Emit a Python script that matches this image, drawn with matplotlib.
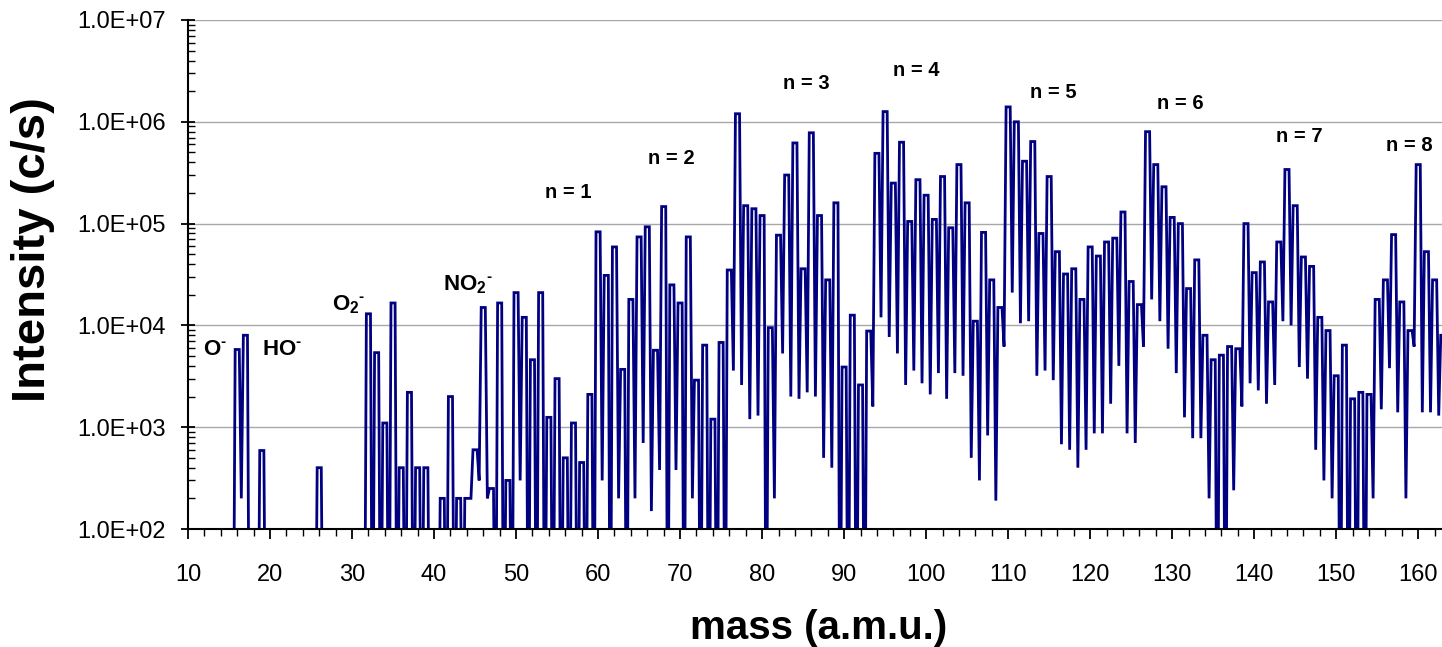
import numpy as np
import matplotlib
matplotlib.use("Agg")
import matplotlib.pyplot as plt
from matplotlib.ticker import MultipleLocator, LogLocator, FuncFormatter, NullFormatter

# peak intensity (c/s) at each integer mass 15..163, 0 = nothing above the floor
masses = np.arange(15, 164)
peak = [
    0, 5.8e3, 8.0e3, 0, 590,                                              # 15-19
    0, 0, 0, 0, 0, 0, 400, 0, 0, 0,                                       # 20-29
    0, 0, 1.3e4, 5.4e3, 1.1e3, 1.66e4, 400, 2.2e3, 400, 400,              # 30-39
    0, 200, 2.0e3, 200, 200, 600, 1.5e4, 250, 1.66e4, 300,                # 40-49
    2.1e4, 1.2e4, 4.6e3, 2.1e4, 1.25e3, 3.0e3, 500, 1.1e3, 450, 2.1e3,    # 50-59
    8.3e4, 3.1e4, 5.9e4, 3.7e3, 1.8e4, 7.4e4, 9.3e4, 5.7e3, 1.47e5, 2.5e4,  # 60-69
    1.66e4, 7.4e4, 2.9e3, 6.4e3, 1.2e3, 6.8e3, 3.5e4, 1.2e6, 1.5e5, 1.4e5,  # 70-79
    1.2e5, 9.5e3, 7.7e4, 3.0e5, 6.2e5, 3.6e4, 7.8e5, 1.2e5, 2.8e4, 1.6e5,   # 80-89
    3.9e3, 1.26e4, 2.6e3, 8.8e3, 4.9e5, 1.26e6, 2.5e5, 6.3e5, 1.05e5, 2.7e5,  # 90-99
    1.9e5, 1.1e5, 2.9e5, 9.1e4, 3.8e5, 1.6e5, 1.1e4, 8.2e4, 2.8e4, 1.5e4,   # 100-109
    1.4e6, 1.0e6, 4.1e5, 6.4e5, 8.0e4, 2.9e5, 5.3e4, 3.2e4, 3.6e4, 1.8e4,   # 110-119
    5.9e4, 4.8e4, 6.6e4, 7.2e4, 1.3e5, 2.7e4, 1.6e4, 8.0e5, 3.8e5, 2.3e5,   # 120-129
    1.15e5, 1.0e5, 2.3e4, 4.4e4, 8.0e3, 4.6e3, 5.1e3, 6.2e3, 5.9e3, 1.0e5,  # 130-139
    3.3e4, 4.2e4, 1.7e4, 6.6e4, 3.4e5, 1.5e5, 4.7e4, 3.8e4, 1.2e4, 8.9e3,   # 140-149
    3.2e3, 6.4e3, 1.9e3, 2.2e3, 2.1e3, 1.8e4, 2.8e4, 7.8e4, 1.7e4, 8.9e3,   # 150-159
    3.8e5, 5.3e4, 2.8e4, 8.0e3,                                           # 160-163
]
# minimum between mass m and m+1
valley = [
    0, 200, 0, 0, 0,
    0, 0, 0, 0, 0, 0, 0, 0, 0, 0,
    0, 0, 0, 0, 0, 0, 0, 0, 0, 0,
    0, 0, 0, 0, 200, 300, 200, 0, 0, 0,
    300, 0, 0, 0, 0, 0, 0, 0, 0, 0,
    300, 0, 200, 0, 200, 700, 150, 380, 0, 380,
    0, 200, 0, 0, 0, 0, 3.6e3, 2.6e3, 1.2e3, 1.3e3,
    0, 200, 5.3e3, 2.0e3, 1.9e3, 2.2e3, 2.0e3, 500, 400, 0,
    0, 0, 0, 1.6e3, 1.2e4, 7.7e3, 5.3e3, 2.6e3, 3.6e3, 2.7e3,
    2.1e3, 3.4e3, 1.9e3, 3.4e3, 3.2e3, 500, 300, 830, 190, 6.2e3,
    2.1e4, 1.05e4, 1.1e4, 3.2e3, 3.6e3, 2.9e3, 680, 600, 400, 600,
    870, 870, 1.7e3, 4.0e3, 870, 700, 6.2e3, 1.8e4, 1.1e4, 5.9e3,
    3.4e3, 1.25e3, 780, 780, 200, 0, 0, 240, 1.6e3, 2.7e3,
    2.3e3, 1.7e3, 2.6e3, 1.1e4, 1.0e4, 3.9e3, 3.0e3, 600, 300, 200,
    0, 0, 0, 0, 200, 1.5e3, 3.8e3, 1.4e3, 200, 6.2e3,
    1.4e3, 1.4e3, 1.3e3, 1.3e3,
]

# ion labels and cluster labels: text, mass, intensity (left edge, vertical centre)
ion_text = ["O$^{\u2010}$", "HO$^{\u2010}$", "O$_{2}$$^{\u2010}$", "NO$_{2}$$^{\u2010}$"]
ion_mass = [11.8, 19.0, 27.6, 41.1]
ion_int = [5.8e3, 5.8e3, 1.6e4, 2.5e4]
n_text = ["n = 1", "n = 2", "n = 3", "n = 4", "n = 5", "n = 6", "n = 7", "n = 8"]
n_mass = [53.5, 66.1, 82.6, 96.0, 112.7, 128.2, 142.6, 156.1]
n_int = [2.0e5, 4.4e5, 2.4e6, 3.2e6, 1.95e6, 1.5e6, 7.1e5, 5.9e5]

plt.rcParams["font.family"] = ["Liberation Sans", "DejaVu Sans"]
plt.rcParams["mathtext.fontset"] = "custom"
plt.rcParams["mathtext.rm"] = "Liberation Sans:bold"
plt.rcParams["mathtext.it"] = "Liberation Sans:bold"
plt.rcParams["mathtext.bf"] = "Liberation Sans:bold"

# trace: flat-topped peak at each mass, dropping to the valley half way
xs, ys = [14.5], [0.0]
for m, p, v in zip(masses, peak, valley):
    xs += [m - 0.25, m + 0.25, m + 0.5]
    ys += [p, p, v]
ys = np.asarray(ys, dtype=float)
ys = np.where(ys > 0, ys, 1.0)

fig = plt.figure(figsize=(14.42, 6.47), dpi=100)
ax = fig.add_axes([188 / 1442, 1 - 529 / 647, 1 - 188 / 1442, (529 - 20) / 647])

ax.plot(xs, ys, color="#000080", lw=2.0, solid_joinstyle="miter")

ax.set_yscale("log")
ax.set_ylim(1e2, 1e7)
ax.set_xlim(10, 162.9)

ax.yaxis.set_major_locator(LogLocator(base=10))
ax.yaxis.set_minor_locator(LogLocator(base=10, subs=np.arange(2, 10)))
ax.yaxis.set_major_formatter(FuncFormatter(lambda v, _: f"{v:.1E}"))
ax.yaxis.set_minor_formatter(NullFormatter())
ax.xaxis.set_major_locator(MultipleLocator(10))
ax.xaxis.set_minor_locator(MultipleLocator(2))

ax.grid(axis="y", which="major", color="#a8a8a8", lw=1.0)
ax.set_axisbelow(True)
for s in ("top", "right"):
    ax.spines[s].set_visible(False)
for s in ("left", "bottom"):
    ax.spines[s].set_linewidth(1.5)
    ax.spines[s].set_zorder(5)

ax.tick_params(axis="y", which="major", direction="inout", length=10, width=1.3,
               labelsize=17, pad=11)
ax.tick_params(axis="y", which="minor", direction="in", length=5, width=1.0)
ax.tick_params(axis="x", which="major", direction="out", length=7, width=1.3,
               labelsize=17, pad=18)
ax.tick_params(axis="x", which="minor", direction="out", length=5, width=1.0)

for t, m, y in zip(ion_text, ion_mass, ion_int):
    ax.text(m, y, t, fontsize=16, fontweight="bold", ha="left", va="center")
for t, m, y in zip(n_text, n_mass, n_int):
    ax.text(m, y, t, fontsize=14.5, fontweight="bold", ha="left", va="center")

fig.text(33 / 1442, 1 - 250 / 647, "Intensity (c/s)", rotation=90, fontsize=34,
         fontweight="bold", ha="center", va="center")
fig.text(819 / 1442, 1 - 628 / 647, "mass (a.m.u.)", fontsize=29,
         fontweight="bold", ha="center", va="center")

fig.savefig("out.png", dpi=100)
